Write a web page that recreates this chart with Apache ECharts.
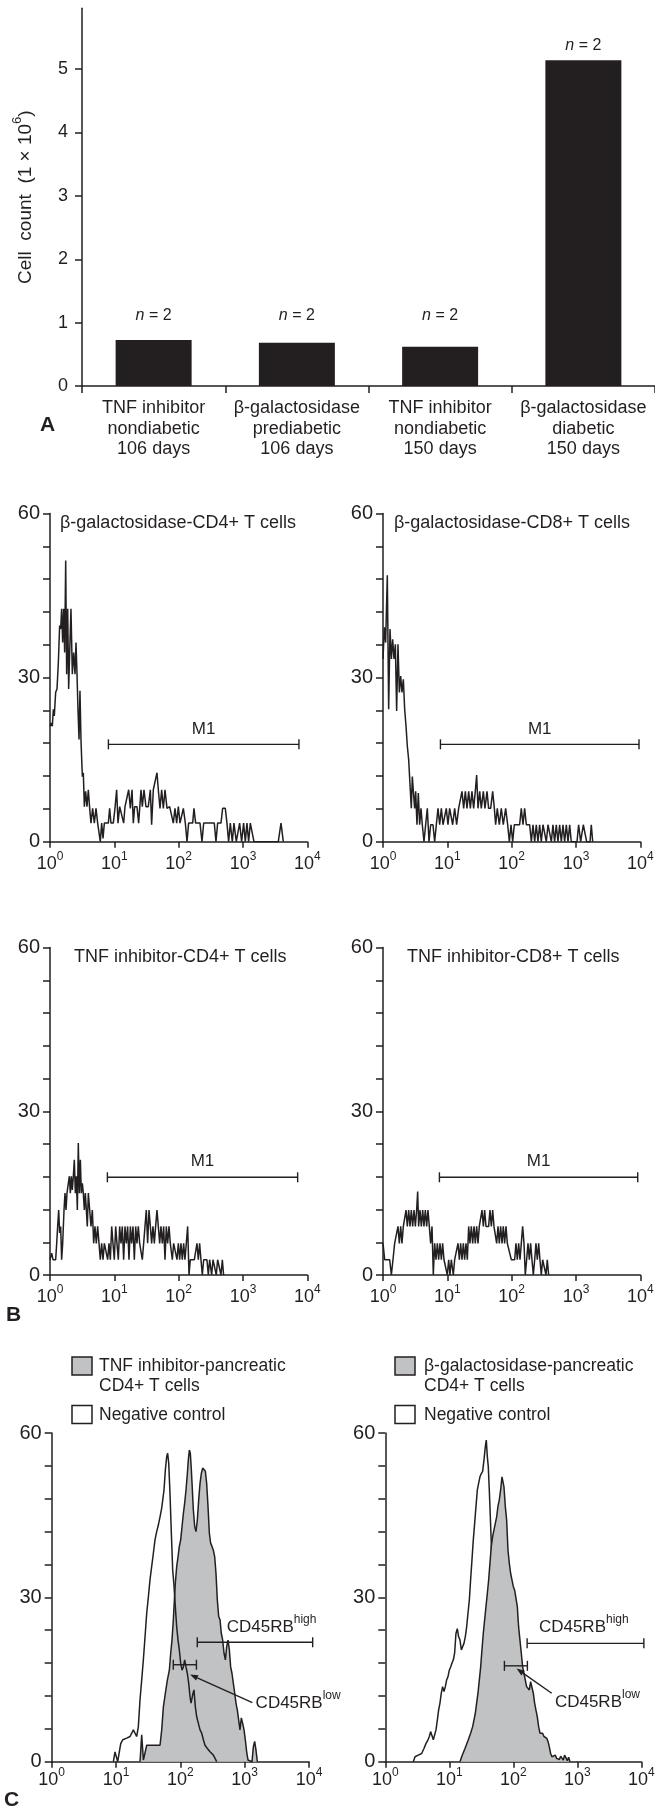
<!DOCTYPE html>
<html>
<head>
<meta charset="utf-8">
<script src="https://cdn.jsdelivr.net/npm/echarts@6/dist/echarts.min.js"></script>
<style>
  html, body { margin: 0; padding: 0; background: #fff; }
  #chart { width: 655px; height: 1809px; }
</style>
</head>
<body>
<div id="chart"></div>
<script>
const ink = '#231f20'
const shade = '#c1c2c4'
const face = 'Liberation Sans, Arial, sans-serif'

// Panel A: cell counts (x 10^6)
const groups = [
  'TNF inhibitor\nnondiabetic\n106 days',
  'β-galactosidase\nprediabetic\n106 days',
  'TNF inhibitor\nnondiabetic\n150 days',
  'β-galactosidase\ndiabetic\n150 days'
]
const cellCounts = [0.726, 0.683, 0.62, 5.14]
const sampleSizes = [2, 2, 2, 2]
// height the "n = 2" notes sit at (first three share one level)
const noteLevels = [0.87, 0.87, 0.87, 5.14]
const countTicks = [0, 1, 2, 3, 4, 5]

// Panel B/C histograms: [log10 intensity, events]
const galCd4 = [[0,21.1],[0.016,21.7],[0.036,21.1],[0.052,24.2],[0.067,23],[0.088,27.3],[0.109,27.9],[0.13,32.8],[0.15,39.5],[0.166,38.9],[0.181,42.6],[0.197,36.4],[0.212,42.6],[0.228,34.6],[0.244,51.4],[0.259,30.6],[0.275,42.6],[0.29,27.9],[0.306,34.6],[0.326,42.6],[0.347,30.6],[0.368,34.6],[0.389,30.6],[0.404,36.4],[0.42,30.6],[0.435,24.2],[0.451,18.7],[0.466,27.6],[0.482,18.4],[0.503,11.9],[0.518,12.6],[0.534,6.4],[0.554,9.2],[0.575,6.4],[0.596,9.5],[0.617,6.1],[0.637,3.4],[0.663,6.1],[0.689,3.4],[0.715,6.1],[0.741,3.4],[0.767,3.4],[0.782,0],[0.803,3.4],[0.824,0.6],[0.845,3.4],[0.907,3.4],[0.927,6.1],[0.948,3.4],[0.984,3.4],[1.01,6.1],[1.036,9.5],[1.057,3.4],[1.083,6.4],[1.114,6.1],[1.145,3.4],[1.166,6.4],[1.197,6.1],[1.223,9.5],[1.249,6.1],[1.275,9.5],[1.295,3.4],[1.316,6.4],[1.352,6.4],[1.378,3.4],[1.415,9.5],[1.435,6.4],[1.461,9.5],[1.492,6.4],[1.528,6.4],[1.56,9.5],[1.58,3.1],[1.606,9.5],[1.637,9.5],[1.663,12.6],[1.684,9.5],[1.71,6.1],[1.736,9.5],[1.762,6.1],[1.788,9.5],[1.819,6.1],[1.86,6.4],[1.891,6.4],[1.917,3.4],[1.943,6.1],[1.969,3.4],[1.995,6.4],[2.021,3.4],[2.047,3.4],[2.073,6.1],[2.104,3.4],[2.13,0],[2.155,3.4],[2.218,3.4],[2.238,6.1],[2.264,3.4],[2.332,3.4],[2.363,0],[2.389,3.4],[2.554,3.4],[2.58,0],[2.606,3.4],[2.658,3.4],[2.684,6.1],[2.725,6.1],[2.751,3.4],[2.777,0],[2.803,3.4],[2.834,0],[2.86,3.4],[2.896,0],[2.948,3.4],[2.979,0],[3.01,3.4],[3.036,0],[3.062,3.4],[3.088,0],[3.114,3.4],[3.145,3.4],[3.171,0],[3.549,0],[3.591,3.4],[3.627,0]]
const galCd8 = [[0,33.4],[0.021,39.2],[0.041,36.4],[0.067,48.7],[0.088,24.2],[0.109,38.9],[0.13,33.4],[0.15,37],[0.171,33.4],[0.192,36.1],[0.212,23.9],[0.233,36.1],[0.254,27.3],[0.275,30.3],[0.295,27.3],[0.316,29.7],[0.337,24.2],[0.358,21.1],[0.378,17.5],[0.399,15],[0.42,15],[0.44,6.1],[0.456,11.9],[0.472,9.2],[0.492,6.1],[0.508,9.2],[0.528,3.1],[0.549,8.9],[0.57,3.1],[0.591,6.1],[0.611,3.1],[0.637,0],[0.663,3.1],[0.689,6.1],[0.715,0],[0.741,3.1],[0.777,3.1],[0.803,0],[0.829,3.1],[0.855,6.1],[0.881,3.1],[0.907,6.1],[0.933,3.1],[0.959,3.1],[0.984,6.1],[1.01,3.1],[1.036,6.1],[1.057,6.1],[1.083,3.1],[1.114,6.1],[1.145,3.1],[1.176,6.1],[1.207,6.1],[1.228,9.2],[1.254,6.1],[1.28,9.2],[1.306,6.1],[1.332,9.2],[1.358,6.1],[1.383,9.2],[1.409,6.1],[1.435,9.2],[1.456,12.2],[1.477,6.1],[1.503,9.2],[1.528,6.1],[1.56,9.2],[1.585,6.1],[1.617,9.2],[1.642,6.1],[1.674,6.1],[1.705,9.2],[1.731,6.1],[1.751,3.1],[1.777,6.1],[1.808,3.1],[1.839,6.1],[1.87,3.1],[1.907,6.1],[1.938,3.1],[1.964,0],[1.99,3.1],[2.016,0],[2.041,3.1],[2.124,3.1],[2.15,6.1],[2.176,3.1],[2.202,6.1],[2.228,3.1],[2.28,3.1],[2.306,0],[2.332,3.1],[2.358,0],[2.383,3.1],[2.409,0],[2.435,3.1],[2.461,0],[2.487,3.1],[2.539,0],[2.565,3.1],[2.591,3.1],[2.617,0],[2.642,3.1],[2.668,0],[2.694,3.1],[2.72,0],[2.746,3.1],[2.772,0],[2.798,3.1],[2.824,0],[2.85,3.1],[2.876,0],[2.902,3.1],[2.927,0],[3.016,0],[3.041,3.1],[3.073,0],[3.093,0],[3.114,3.1],[3.145,3.1],[3.166,0],[3.218,0],[3.238,3.1],[3.26,0]]
const tnfCd4 = [[0,2.8],[0.026,4],[0.047,2.8],[0.088,2.8],[0.104,5.8],[0.119,8.9],[0.135,11.9],[0.15,7.7],[0.166,8.9],[0.181,2.8],[0.197,5.8],[0.218,11.9],[0.233,15],[0.249,11.9],[0.264,15],[0.285,15],[0.301,18.1],[0.316,15],[0.332,18.1],[0.347,15.6],[0.363,18.1],[0.378,21.1],[0.394,15],[0.409,18.1],[0.425,11.9],[0.44,24.2],[0.456,15],[0.472,21.1],[0.487,15],[0.503,16.8],[0.518,15],[0.534,11.9],[0.549,15],[0.565,11.9],[0.58,8.9],[0.596,15],[0.617,11.9],[0.637,8.9],[0.658,11.9],[0.679,5.8],[0.699,8.9],[0.72,5.8],[0.741,8.9],[0.762,5.8],[0.782,2.8],[0.803,5.8],[0.824,2.8],[0.845,5.8],[0.876,5.8],[0.896,2.8],[0.917,5.8],[0.938,2.8],[0.959,8.9],[0.979,5.8],[1,2.8],[1.021,8.9],[1.041,5.8],[1.062,2.8],[1.083,8.9],[1.104,5.8],[1.124,8.9],[1.145,2.8],[1.166,8.9],[1.187,5.8],[1.207,8.9],[1.228,2.8],[1.249,8.9],[1.269,5.8],[1.29,8.9],[1.311,2.8],[1.332,8.9],[1.352,5.8],[1.373,8.9],[1.394,5.8],[1.415,5.8],[1.435,2.8],[1.456,5.8],[1.477,5.8],[1.497,11.9],[1.518,5.8],[1.539,11.9],[1.56,8.9],[1.58,5.8],[1.601,8.9],[1.622,5.8],[1.642,8.9],[1.663,11.9],[1.684,8.9],[1.705,5.8],[1.725,8.9],[1.746,5.8],[1.767,8.9],[1.788,2.8],[1.808,8.9],[1.829,5.8],[1.85,8.9],[1.87,5.8],[1.902,2.8],[1.922,5.8],[1.953,5.8],[1.974,2.8],[1.995,5.8],[2.016,2.8],[2.036,5.8],[2.057,2.8],[2.078,5.8],[2.098,2.8],[2.119,5.8],[2.14,8.9],[2.161,0],[2.181,2.8],[2.244,2.8],[2.264,2.8],[2.285,5.8],[2.306,2.8],[2.326,5.8],[2.347,2.8],[2.368,0],[2.389,2.8],[2.44,2.8],[2.461,0],[2.482,2.8],[2.513,0],[2.534,2.8],[2.565,2.8],[2.585,0],[2.606,2.8],[2.637,2.8],[2.658,0],[2.679,2.8],[2.699,0]]
const tnfCd8 = [[0,5.8],[0.026,2.8],[0.104,2.8],[0.13,0],[0.155,2.8],[0.181,5.8],[0.207,5.8],[0.233,8.9],[0.254,5.8],[0.275,8.9],[0.295,5.8],[0.316,8.9],[0.337,8.9],[0.358,11.9],[0.378,8.9],[0.399,11.9],[0.42,8.9],[0.44,11.9],[0.461,8.9],[0.482,11.9],[0.503,8.9],[0.523,11.9],[0.539,15.3],[0.554,8.9],[0.575,11.9],[0.596,8.9],[0.617,11.9],[0.637,8.9],[0.658,11.9],[0.679,8.9],[0.699,11.9],[0.72,8.9],[0.741,5.8],[0.762,8.9],[0.782,0],[0.803,5.8],[0.824,2.8],[0.845,5.8],[0.865,2.8],[0.886,5.8],[0.907,2.8],[0.927,5.8],[0.948,2.8],[0.979,2.8],[1,0],[1.021,2.8],[1.041,0],[1.062,2.8],[1.093,0],[1.114,2.8],[1.145,2.8],[1.166,5.8],[1.187,2.8],[1.207,5.8],[1.228,2.8],[1.249,5.8],[1.269,2.8],[1.29,5.8],[1.311,2.8],[1.332,8.9],[1.352,5.8],[1.373,8.9],[1.394,5.8],[1.415,8.9],[1.435,5.8],[1.456,8.9],[1.477,5.8],[1.497,8.9],[1.518,8.9],[1.539,11.9],[1.56,8.9],[1.58,11.9],[1.601,8.9],[1.642,8.9],[1.663,11.9],[1.684,8.9],[1.705,11.9],[1.725,8.9],[1.746,8.9],[1.767,5.8],[1.788,8.9],[1.808,5.8],[1.829,8.9],[1.85,5.8],[1.87,8.9],[1.891,5.8],[1.912,8.9],[1.933,5.8],[1.995,2.8],[2.047,2.8],[2.067,5.8],[2.088,2.8],[2.109,5.8],[2.13,2.8],[2.15,5.8],[2.171,8.9],[2.192,5.8],[2.212,0],[2.233,2.8],[2.254,5.8],[2.275,2.8],[2.295,5.8],[2.316,2.8],[2.337,0],[2.358,2.8],[2.378,5.8],[2.399,2.8],[2.42,5.8],[2.44,2.8],[2.461,0],[2.482,2.8],[2.513,2.8],[2.534,0],[2.554,2.8],[2.575,0]]
const tnfPancreatic = [[1.373,0],[1.399,4.9],[1.425,0.3],[1.477,3],[1.684,3],[1.71,5.8],[1.736,10],[1.767,12.5],[1.798,14.9],[1.829,16.7],[1.85,19.8],[1.87,22.2],[1.891,25.9],[1.907,29.5],[1.922,32.6],[1.943,35.6],[1.964,37.4],[1.984,39.3],[2.005,40.5],[2.026,42.9],[2.047,45.3],[2.067,47.2],[2.088,49.6],[2.109,52.6],[2.124,55.1],[2.14,56.9],[2.155,56.3],[2.171,53.3],[2.187,49.6],[2.202,46],[2.223,42.9],[2.243,42],[2.264,44.1],[2.285,47.8],[2.306,50.8],[2.326,52.6],[2.347,53.6],[2.368,53.9],[2.389,53],[2.409,50.8],[2.43,46.6],[2.451,41.7],[2.471,39.9],[2.492,39.3],[2.513,38.6],[2.534,37.4],[2.554,34.4],[2.575,29.5],[2.596,26.5],[2.617,25.9],[2.637,23.4],[2.658,22.2],[2.679,19.8],[2.7,18.6],[2.72,21],[2.741,22.2],[2.762,20.4],[2.782,17.3],[2.803,16.1],[2.824,14.3],[2.845,12.5],[2.865,10.7],[2.886,9.4],[2.907,7.6],[2.927,5.8],[2.948,8],[2.969,7],[2.99,5.8],[3.01,4],[3.031,1.8],[3.052,0.3],[3.083,0],[3.114,0],[3.135,2.7],[3.155,3.7],[3.176,2.1],[3.197,0]]
const tnfControl = [[0.959,0],[0.984,1.8],[1.01,1.5],[1.026,0],[1.052,0],[1.073,3.3],[1.104,4],[1.166,4.3],[1.218,4.6],[1.244,5.2],[1.269,5.8],[1.295,5.5],[1.321,4.6],[1.347,6.4],[1.373,11.3],[1.399,14.9],[1.425,18.6],[1.451,22.8],[1.477,27.1],[1.503,30.1],[1.528,33.2],[1.554,35.6],[1.58,38],[1.606,40.5],[1.632,42],[1.658,43.2],[1.684,44.7],[1.71,46.3],[1.725,46.6],[1.746,49.6],[1.767,53.3],[1.788,55.7],[1.803,56.3],[1.819,54.5],[1.839,49],[1.86,41.7],[1.881,35],[1.902,32],[1.922,28.3],[1.943,24.6],[1.964,22.2],[1.984,20.4],[2.005,18],[2.026,16.7],[2.047,17.3],[2.067,18.6],[2.088,17.3],[2.109,16.1],[2.13,14.3],[2.15,11.9],[2.166,10.7],[2.181,10.7],[2.197,12.5],[2.212,13.1],[2.233,10],[2.254,8.2],[2.28,7],[2.306,5.8],[2.332,5.2],[2.358,4],[2.383,3],[2.42,2.4],[2.461,1.8],[2.513,1.2],[2.539,0.9],[2.565,0]]
const galPancreatic = [[1.167,0],[1.193,0.9],[1.245,2.4],[1.297,4],[1.333,5.2],[1.365,6.4],[1.385,7.6],[1.406,8.8],[1.427,10.7],[1.448,12.5],[1.469,14.9],[1.49,17.3],[1.51,20.4],[1.531,23.4],[1.552,25.9],[1.573,28.3],[1.594,30.7],[1.615,33.2],[1.635,36.2],[1.656,39.3],[1.677,41.1],[1.698,42.3],[1.719,43.5],[1.74,44.7],[1.76,46.6],[1.781,47.8],[1.802,49.6],[1.823,52],[1.839,52],[1.854,50.2],[1.875,46.6],[1.896,44.1],[1.917,38.6],[1.938,36.2],[1.958,34.4],[1.979,33.2],[2,32],[2.021,31.3],[2.042,31.6],[2.063,28.3],[2.083,24.6],[2.104,22.2],[2.125,19.8],[2.146,17.3],[2.167,16.1],[2.188,14.9],[2.208,13.7],[2.229,13.7],[2.25,13.1],[2.271,14.6],[2.292,14.9],[2.313,12.5],[2.333,10.7],[2.354,9.4],[2.375,8.2],[2.396,6.4],[2.417,5.2],[2.438,4.9],[2.458,5.2],[2.479,4.6],[2.5,4.9],[2.521,4.3],[2.542,3.7],[2.563,2.7],[2.583,1.5],[2.604,0.9],[2.635,0.9],[2.656,1.2],[2.677,0.6],[2.698,0.9],[2.719,0.4],[2.74,1],[2.76,0.9],[2.781,0.3],[2.802,1.2],[2.823,1],[2.844,0.2],[2.865,0.8],[2.885,0]]
const galControl = [[0.438,0],[0.464,0.9],[0.516,1.2],[0.568,1.5],[0.604,2.4],[0.635,3.3],[0.667,4],[0.688,4.6],[0.708,5.5],[0.729,5.2],[0.75,4],[0.771,4.3],[0.792,5.8],[0.813,7.6],[0.833,9.4],[0.854,10.7],[0.875,12.5],[0.896,13.7],[0.917,12.8],[0.938,13.7],[0.958,14.9],[0.979,15.5],[1,16.7],[1.021,17.3],[1.042,18],[1.063,18.6],[1.083,19.8],[1.104,23.4],[1.125,24.3],[1.146,22.8],[1.167,22.2],[1.188,20.4],[1.208,20.1],[1.229,21.6],[1.25,22.8],[1.271,24.6],[1.292,27.1],[1.313,29.5],[1.333,33.2],[1.354,36.8],[1.375,40.5],[1.396,43.5],[1.417,46.6],[1.438,49.6],[1.458,50.8],[1.479,52],[1.5,52.6],[1.521,53],[1.542,55.1],[1.563,57.5],[1.578,58.7],[1.594,55.7],[1.609,53.9],[1.625,49.6],[1.641,44.7],[1.656,39.9],[1.672,34.4],[1.688,29.5],[1.703,25.9],[1.719,22.2],[1.74,18.6],[1.76,14.9],[1.781,11.3],[1.802,7.6],[1.823,5.2],[1.844,2.7],[1.865,1.5],[1.896,0.6],[1.927,0]]

// gates: [from, to, level]
const m1Gates = [[0.908, 3.87, 17.8], [0.893, 3.98, 17.8], [0.892, 3.85, 17.9], [0.877, 3.96, 17.9]]
const highGates = [[2.263, 4.057, 21.8], [2.216, 4.04, 21.6]]
const lowGates = [[1.89, 2.25, 17.7], [1.861, 2.22, 17.5]]
// arrows: [fromX, fromY, toX, toY]
const lowArrows = [[3.12, 10.8, 2.15, 15.9], [2.6, 12.5, 2.05, 17]]
const highLabelAt = [[2.72, 25], [2.4, 25]]
const lowLabelAt = [[3.17, 11.2], [2.65, 11.3]]

const histCounts = [0, 30, 60]

const chart = echarts.init(document.getElementById('chart'), null, { renderer: 'canvas' })

const axisStroke = { color: ink, width: 1.5 }
const supRich = {
  b: { fontSize: 18, fontFamily: face, color: ink, lineHeight: 22, verticalAlign: 'bottom' },
  s: { fontSize: 12, fontFamily: face, color: ink, lineHeight: 22, verticalAlign: 'top' }
}

const grids = [
  { left: 82, top: 8.3, width: 573, height: 377.7 },
  { left: 50, top: 513.5, width: 257.3, height: 328.2 },
  { left: 383, top: 513.5, width: 257.3, height: 328.2 },
  { left: 50, top: 947.5, width: 257.3, height: 327.5 },
  { left: 383, top: 947.5, width: 257.3, height: 327.5 },
  { left: 51.7, top: 1433, width: 257.3, height: 328.7 },
  { left: 385.3, top: 1433, width: 256, height: 328.7 }
].map(g => Object.assign({ outerBoundsMode: 'none', containLabel: false }, g))

function histX (i, margin) {
  return {
    gridIndex: i, type: 'value', min: 0, max: 4, interval: 1,
    axisLine: { show: true, onZero: false, lineStyle: axisStroke },
    axisTick: { show: true, length: 6, lineStyle: axisStroke },
    splitLine: { show: false },
    axisLabel: { margin, formatter: v => '{b|10}{s|' + v + '}', rich: supRich, showMinLabel: true, showMaxLabel: true }
  }
}

function histY (i) {
  return {
    gridIndex: i, type: 'value', min: 0, max: 60, interval: 6,
    axisLine: { show: true, onZero: false, lineStyle: axisStroke },
    axisTick: { show: true, length: 7, lineStyle: axisStroke },
    splitLine: { show: false },
    axisLabel: { margin: 10, fontSize: 20, fontFamily: face, color: ink, formatter: v => histCounts.includes(v) ? String(v) : '' }
  }
}

function trace (i, data, z, filled) {
  const s = {
    type: 'line', xAxisIndex: i, yAxisIndex: i, data, z,
    symbol: 'none', silent: true,
    lineStyle: { color: ink, width: 1.5 }
  }
  if (filled) s.areaStyle = { color: shade, opacity: 1 }
  return s
}

function seg (x1, y1, x2, y2) {
  return { type: 'line', shape: { x1, y1, x2, y2 }, style: { stroke: ink, lineWidth: 1.4 } }
}

function gate (i, g, label) {
  return {
    type: 'custom', xAxisIndex: i, yAxisIndex: i, data: [g], z: 5, silent: true,
    renderItem: (params, api) => {
      const a = api.coord([api.value(0), api.value(2)])
      const b = api.coord([api.value(1), api.value(2)])
      const kids = [seg(a[0], a[1], b[0], b[1]), seg(a[0], a[1] - 5, a[0], a[1] + 5), seg(b[0], b[1] - 5, b[0], b[1] + 5)]
      if (label) {
        kids.push({ type: 'text', x: (a[0] + b[0]) / 2, y: a[1] - 7,
          style: { text: label, font: '17px ' + face, fill: ink, align: 'center', verticalAlign: 'bottom' } })
      }
      return { type: 'group', children: kids }
    }
  }
}

function tag (i, at, name, sup) {
  return {
    type: 'custom', xAxisIndex: i, yAxisIndex: i, data: [at], z: 6, silent: true,
    renderItem: (params, api) => {
      const p = api.coord([api.value(0), api.value(1)])
      return { type: 'text', x: p[0], y: p[1],
        style: { text: '{b|' + name + '}{s|' + sup + '}', align: 'left', verticalAlign: 'middle',
          rich: { b: { fontSize: 17, fontFamily: face, fill: ink, lineHeight: 22, verticalAlign: 'bottom' },
                  s: { fontSize: 12, fontFamily: face, fill: ink, lineHeight: 22, verticalAlign: 'top' } } } }
    }
  }
}

function arrow (i, a) {
  return {
    type: 'custom', xAxisIndex: i, yAxisIndex: i, data: [a], z: 6, silent: true,
    renderItem: (params, api) => {
      const p = api.coord([api.value(0), api.value(1)])
      const q = api.coord([api.value(2), api.value(3)])
      const dx = q[0] - p[0], dy = q[1] - p[1]
      const len = Math.hypot(dx, dy)
      const ux = dx / len, uy = dy / len
      const bx = q[0] - ux * 8, by = q[1] - uy * 8
      return { type: 'group', children: [
        seg(p[0], p[1], bx, by),
        { type: 'polygon', shape: { points: [[q[0], q[1]], [bx - uy * 3, by + ux * 3], [bx + uy * 3, by - ux * 3]] }, style: { fill: ink } }
      ] }
    }
  }
}

function text (x, y, str, size, bold) {
  return { type: 'text', x, y, silent: true,
    style: { text: str, font: (bold ? 'bold ' : '') + size + 'px ' + face, fill: ink, align: 'left', verticalAlign: 'middle' } }
}

function key (x, y, fillColor) {
  return { type: 'rect', shape: { x, y, width: 20, height: 18 }, silent: true,
    style: { fill: fillColor, stroke: ink, lineWidth: 1.5 } }
}

const option = {
  animation: false,
  backgroundColor: '#fff',
  grid: grids,
  xAxis: [
    {
      gridIndex: 0, type: 'category', data: groups,
      axisLine: { show: true, lineStyle: axisStroke },
      axisTick: { show: true, length: 7, lineStyle: axisStroke },
      axisLabel: { interval: 0, margin: 12, fontSize: 18, lineHeight: 20.5, fontFamily: face, color: ink }
    },
    histX(1, 9), histX(2, 9), histX(3, 9), histX(4, 9), histX(5, 5), histX(6, 5)
  ],
  yAxis: [
    {
      gridIndex: 0, type: 'value', min: 0, max: 5.96,
      axisLine: { show: true, lineStyle: axisStroke },
      axisTick: { show: true, length: 7, lineStyle: axisStroke, customValues: countTicks },
      splitLine: { show: false },
      axisLabel: { margin: 14, fontSize: 18, fontFamily: face, color: ink, customValues: countTicks },
      name: '{t|Cell  count  (1 × 10}{s|6}{t|)}',
      nameLocation: 'middle', nameRotate: 90, nameGap: 47,
      nameTextStyle: {
        rich: {
          t: { fontSize: 19, fontFamily: face, color: ink, lineHeight: 24, verticalAlign: 'bottom' },
          s: { fontSize: 13, fontFamily: face, color: ink, lineHeight: 24, verticalAlign: 'top' }
        }
      }
    },
    histY(1), histY(2), histY(3), histY(4), histY(5), histY(6)
  ],
  series: [
    {
      type: 'bar', xAxisIndex: 0, yAxisIndex: 0, data: cellCounts, barWidth: 76,
      itemStyle: { color: ink }
    },
    {
      // transparent carrier so the sample-size notes share one height
      type: 'bar', xAxisIndex: 0, yAxisIndex: 0, data: noteLevels, barWidth: 76, barGap: '-100%',
      itemStyle: { color: 'rgba(0,0,0,0)' }, silent: true, z: 1,
      label: {
        show: true, position: 'top', distance: 7,
        formatter: p => '{i|n} = ' + sampleSizes[p.dataIndex],
        fontSize: 16, fontFamily: face, color: ink,
        rich: { i: { fontSize: 16, fontFamily: face, color: ink, fontStyle: 'italic' } }
      }
    },
    trace(1, galCd4, 3), trace(2, galCd8, 3), trace(3, tnfCd4, 3), trace(4, tnfCd8, 3),
    gate(1, m1Gates[0], 'M1'), gate(2, m1Gates[1], 'M1'), gate(3, m1Gates[2], 'M1'), gate(4, m1Gates[3], 'M1'),
    trace(5, tnfPancreatic, 2, true), trace(5, tnfControl, 3),
    trace(6, galControl, 2), trace(6, galPancreatic, 3, true),
    gate(5, highGates[0]), gate(5, lowGates[0]), gate(6, highGates[1]), gate(6, lowGates[1]),
    tag(5, highLabelAt[0], 'CD45RB', 'high'), tag(5, lowLabelAt[0], 'CD45RB', 'low'),
    tag(6, highLabelAt[1], 'CD45RB', 'high'), tag(6, lowLabelAt[1], 'CD45RB', 'low'),
    arrow(5, lowArrows[0]), arrow(6, lowArrows[1])
  ],
  graphic: [
    text(40, 425, 'A', 21, true),
    text(6, 1315, 'B', 21, true),
    text(4, 1800, 'C', 21, true),
    text(60, 523, 'β-galactosidase-CD4+ T cells', 18),
    text(394, 523, 'β-galactosidase-CD8+ T cells', 18),
    text(74, 957, 'TNF inhibitor-CD4+ T cells', 18),
    text(407, 957, 'TNF inhibitor-CD8+ T cells', 18),
    key(72, 1357, shade), key(72, 1405.5, '#fff'),
    text(99, 1366.5, 'TNF inhibitor-pancreatic', 17.5),
    text(99, 1386.5, 'CD4+ T cells', 17.5),
    text(99, 1415, 'Negative control', 17.5),
    key(395, 1357, shade), key(395, 1405.5, '#fff'),
    text(424, 1366.5, 'β-galactosidase-pancreatic', 17.5),
    text(424, 1386.5, 'CD4+ T cells', 17.5),
    text(424, 1415, 'Negative control', 17.5)
  ]
}

chart.setOption(option)
window.addEventListener('resize', chart.resize)
</script>
</body>
</html>
